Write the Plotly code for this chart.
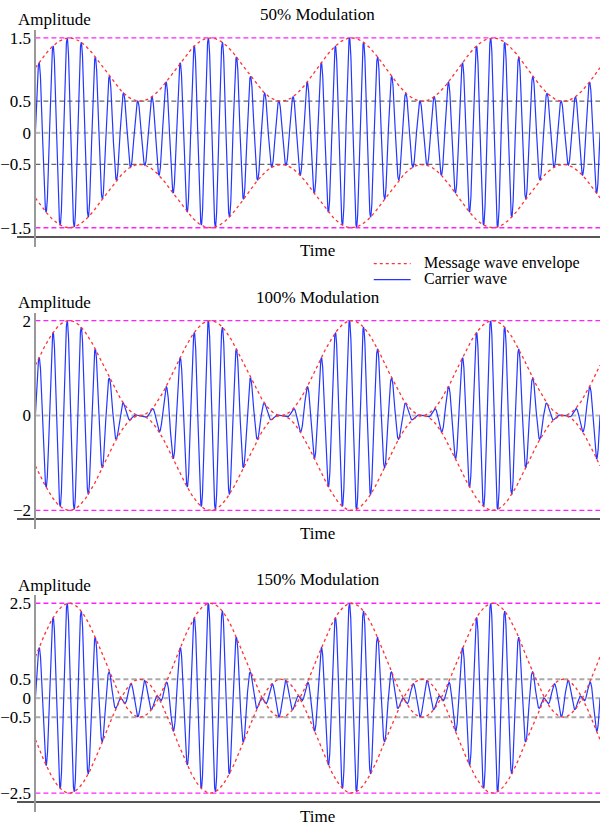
import numpy as np
import plotly.graph_objects as go

W, H = 600, 830

# data
modulation = [0.5, 1.0, 1.5]
titles = ["50% Modulation", "100% Modulation", "150% Modulation"]
tick_vals = [[1.5, 0.5, 0, -0.5, -1.5], [2, 0, -2], [2.5, 0.5, 0, -0.5, -2.5]]
tick_text = [["1.5", "0.5", "0", "\u22120.5", "\u22121.5"],
             ["2", "0", "\u22122"],
             ["2.5", "0.5", "0", "\u22120.5", "\u22122.5"]]
peak_lines = [[1.5, -1.5], [2, -2], [2.5, -2.5]]
half_lines = [[0.5, -0.5], [], [0.5, -0.5]]
carrier_per_message = 10   # carrier cycles in one message cycle
message_cycles = 4         # message cycles shown
message_phase = 0.06       # rad

# layout in pixels
top_px = [37, 320, 603]    # where the +peak line sits
span_px = 190              # +peak to -peak
x0_px, t0_px, x1_px = 15, 33.5, 600
half_style = [dict(color="#666666", width=1.3), None, dict(color="#aaaaaa", width=2)]

FONT = "Liberation Serif"
px_t = (x1_px - t0_px) / message_cycles
xr = [-(t0_px - x0_px) / px_t, message_cycles]


def py(p):
    return 1 - p / H


fig = go.Figure()
annotations = []
shapes = []
t = np.linspace(0, message_cycles, 6000)

for i, m in enumerate(modulation):
    n = "" if i == 0 else str(i + 1)
    peak = 1 + m
    unit = span_px / (2 * peak)
    top = top_px[i]
    ax_top, ax_bot, xline = top - 8, top + span_px + 19, top + span_px + 9
    yr = [-peak - 19 / unit, peak + 8 / unit]

    env = 1 + m * np.sin(2 * np.pi * t + message_phase)
    carrier = env * np.sin(2 * np.pi * carrier_per_message * t)

    # reference lines
    fig.add_trace(go.Scatter(x=[0, message_cycles], y=[0, 0], mode="lines",
                             line=dict(color="#bbbbbb", width=2.2, dash="5px,3px"),
                             xaxis="x" + n, yaxis="y" + n, showlegend=False, hoverinfo="skip"))
    for v in half_lines[i]:
        fig.add_trace(go.Scatter(x=[0, message_cycles], y=[v, v], mode="lines",
                                 line=dict(dash="5px,3px", **half_style[i]),
                                 xaxis="x" + n, yaxis="y" + n, showlegend=False, hoverinfo="skip"))
    for v in peak_lines[i]:
        fig.add_trace(go.Scatter(x=[0, message_cycles], y=[v, v], mode="lines",
                                 line=dict(color="#ff22ff", width=1.3, dash="5px,3px"),
                                 xaxis="x" + n, yaxis="y" + n, showlegend=False, hoverinfo="skip"))

    fig.add_trace(go.Scatter(x=t, y=carrier, mode="lines",
                             line=dict(color="#2436ff", width=1.2),
                             xaxis="x" + n, yaxis="y" + n, showlegend=False))
    for s in [1, -1]:
        fig.add_trace(go.Scatter(x=t, y=s * env, mode="lines",
                                 line=dict(color="#ff3333", width=1.3, dash="3px,3px"),
                                 xaxis="x" + n, yaxis="y" + n, showlegend=False))

    fig.update_layout(**{
        "xaxis" + n: dict(domain=[x0_px / W, x1_px / W], range=xr, anchor="free",
                          position=py(xline), showline=True, linecolor="#555555",
                          linewidth=1.5, showgrid=False, zeroline=False,
                          showticklabels=False, ticks=""),
        "yaxis" + n: dict(domain=[py(ax_bot), py(ax_top)], range=yr, anchor="free",
                          position=t0_px / W, showline=True, linecolor="#999999",
                          linewidth=2, showgrid=False, zeroline=False,
                          tickvals=tick_vals[i], ticktext=tick_text[i], ticks="",
                          tickfont=dict(family=FONT, size=17, color="black")),
    })

    annotations += [
        dict(text=titles[i], x=317 / W, y=py(top - 23.5)),
        dict(text="Amplitude", x=53 / W, y=py(top - 18)),
        dict(text="Time", x=317 / W, y=py(top + 213)),
    ]

# legend drawn by hand
annotations += [
    dict(text="Message wave envelope", x=421 / W, y=py(262), xanchor="left", size=16),
    dict(text="Carrier wave", x=421 / W, y=py(278), xanchor="left", size=16),
]
shapes += [
    dict(type="line", xref="paper", yref="paper", x0=373 / W, x1=410 / W,
         y0=py(263), y1=py(263), line=dict(color="#ff3333", width=1.2, dash="3px,3px")),
    dict(type="line", xref="paper", yref="paper", x0=373 / W, x1=410 / W,
         y0=py(279), y1=py(279), line=dict(color="#2436ff", width=1.2)),
]

for a in annotations:
    size = a.pop("size", 17)
    a.update(xref="paper", yref="paper", showarrow=False,
             font=dict(family=FONT, size=size, color="black"))
    a.setdefault("xanchor", "center")
    a["yanchor"] = "middle"

fig.update_layout(width=W, height=H, margin=dict(l=0, r=0, t=0, b=0),
                  paper_bgcolor="white", plot_bgcolor="white",
                  annotations=annotations, shapes=shapes, showlegend=False)

fig.write_html("out.html", config={"displayModeBar": False},
               post_script="document.body.style.margin='0';")
